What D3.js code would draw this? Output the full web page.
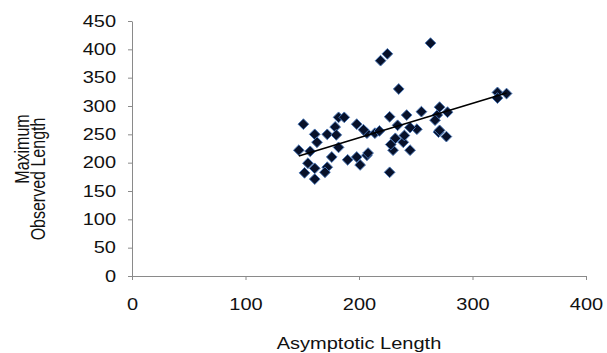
<!DOCTYPE html>
<html>
<head>
<meta charset="utf-8">
<script src="https://cdn.jsdelivr.net/npm/d3@7"></script>
<style>
  body { margin: 0; background: #fff; }
  text { font-family: "Liberation Sans", Arial, sans-serif; fill: #111; }
</style>
</head>
<body>
<div id="chart"></div>
<script>
// ---- data ----
const asymptotic = [151, 182, 187, 179, 161, 172, 180, 163, 198, 207,
  147, 157, 182, 176, 190, 198, 201, 207, 155, 152,
  161, 172, 170, 161, 227, 242, 255, 269, 267, 234,
  251, 270, 232, 239, 230, 245, 208, 227, 214, 322,
  330, 322, 271, 278, 271, 277, 263, 219, 225, 235,
  240, 228, 218, 204, 245];
const maxObserved = [268, 280, 280, 263, 250, 250, 249, 236, 268, 252,
  222, 220, 227, 210, 205, 210, 196, 213, 199, 182,
  190, 192, 183, 171, 281, 284, 290, 284, 275, 266,
  259, 254, 243, 236, 222, 222, 217, 183, 252, 324,
  322, 314, 298, 289, 257, 246, 411, 380, 392, 330,
  248, 232, 256, 258, 262];
const xTicks = [0, 100, 200, 300, 400];
const yTicks = [0, 50, 100, 150, 200, 250, 300, 350, 400, 450];

const W = 607, H = 353;
const stretch = 1.25; // text in the picture is widened
const fs = '16px';

const svg = d3.select('#chart').append('svg')
  .attr('width', W).attr('height', H);

const x = d3.scaleLinear().domain([0, 400]).range([132, 586]);
const y = d3.scaleLinear().domain([0, 450]).range([276, 21]);

// axes
const axisColor = '#8a8a8a';
const gx = svg.append('g').attr('transform', `translate(0,${y(0)})`)
  .call(d3.axisBottom(x).tickValues(xTicks).tickSize(4).tickSizeOuter(0));
gx.selectAll('text')
  .attr('y', 23)
  .attr('transform', `scale(${stretch},1)`)
  .style('font-size', fs);

const gy = svg.append('g').attr('transform', `translate(${x(0)},0)`)
  .call(d3.axisLeft(y).tickValues(yTicks).tickSize(4).tickSizeOuter(0));
gy.selectAll('text')
  .attr('x', -16 / stretch)
  .attr('transform', `scale(${stretch},1)`)
  .style('font-size', fs);

[gx, gy].forEach(g => {
  g.select('.domain').attr('stroke', axisColor);
  g.selectAll('.tick line').attr('stroke', axisColor);
});

// trend line (least squares, as the spreadsheet does)
const n = asymptotic.length;
const mx = d3.mean(asymptotic), my = d3.mean(maxObserved);
let sxy = 0, sxx = 0;
for (let i = 0; i < n; i++) {
  sxy += (asymptotic[i] - mx) * (maxObserved[i] - my);
  sxx += (asymptotic[i] - mx) ** 2;
}
const slope = sxy / sxx, icpt = my - slope * mx;
const [x0, x1] = d3.extent(asymptotic);

// points
const diamond = d3.symbol(d3.symbolSquare, 58);
svg.append('g').selectAll('path')
  .data(asymptotic.map((v, i) => [v, maxObserved[i]]))
  .join('path')
  .attr('d', diamond)
  .attr('transform', d => `translate(${x(d[0])},${y(d[1])}) rotate(45)`)
  .attr('fill', '#07112a')
  .attr('stroke', '#4a78b8')
  .attr('stroke-width', 0.9);

svg.append('line')
  .attr('x1', x(x0)).attr('y1', y(slope * x0 + icpt))
  .attr('x2', x(x1)).attr('y2', y(slope * x1 + icpt))
  .attr('stroke', '#000').attr('stroke-width', 1.6);

// titles
svg.append('text')
  .attr('transform', `translate(${x(200)},349) scale(${stretch},1)`)
  .attr('text-anchor', 'middle')
  .style('font-size', fs)
  .text('Asymptotic Length');

svg.append('text')
  .attr('transform', `translate(29,149) scale(${stretch},1) rotate(-90)`)
  .attr('text-anchor', 'middle')
  .style('font-size', fs)
  .text('Maximum');
svg.append('text')
  .attr('transform', `translate(45,179) scale(${stretch},1) rotate(-90)`)
  .attr('text-anchor', 'middle')
  .style('font-size', fs)
  .text('Observed Length');
</script>
</body>
</html>
